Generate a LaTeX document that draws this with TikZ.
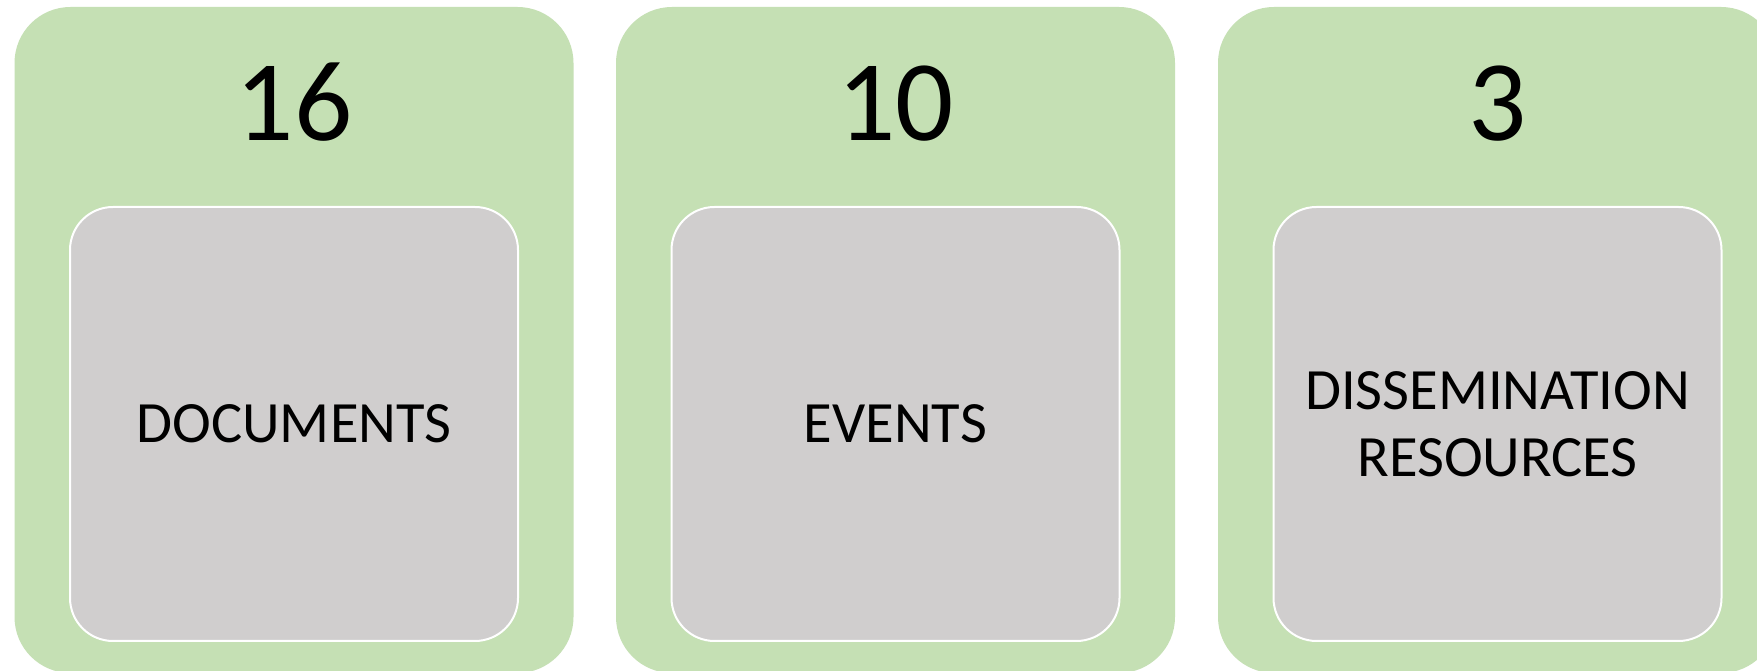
\documentclass[tikz,border=0pt]{standalone}
\usepackage{fontspec}
\setmainfont{Carlito}
\definecolor{boxgreen}{HTML}{C5E0B4}
\definecolor{boxgray}{HTML}{D0CECE}
\tikzset{
 outerbox/.style={fill=boxgreen, draw=none, rounded corners=56pt, minimum width=559pt, minimum height=666pt, inner sep=0pt},
 innerbox/.style={fill=boxgray, draw=white, line width=2pt, rounded corners=43pt, minimum width=448pt, minimum height=434pt, inner sep=0pt, align=center, font=\fontsize{58.5}{67}\selectfont},
 numlabel/.style={font=\fontsize{115}{115}\selectfont, inner sep=0pt, anchor=base}
}
\begin{document}
\begin{tikzpicture}[x=1pt,y=1pt]
\useasboundingbox (0,0) rectangle (1757,671);
\clip (0,0) rectangle (1757,671);
\fill[white] (0,0) rectangle (1757,671);
\node[outerbox] (o1) at (294,331) {};
\node[outerbox] (o2) at (895.5,331) {};
\node[outerbox] (o3) at (1497.5,331) {};
\node[numlabel] (n1) at (294,530) {16};
\node[numlabel] (n2) at (895.5,530) {10};
\node[numlabel] (n3) at (1497.5,530) {3};
\node[innerbox] (i1) at (294,247) {DOCUMENTS};
\node[innerbox] (i2) at (895.5,247) {EVENTS};
\node[innerbox] (i3) at (1497.5,247) {DISSEMINATION\\RESOURCES};
\end{tikzpicture}
\end{document}
